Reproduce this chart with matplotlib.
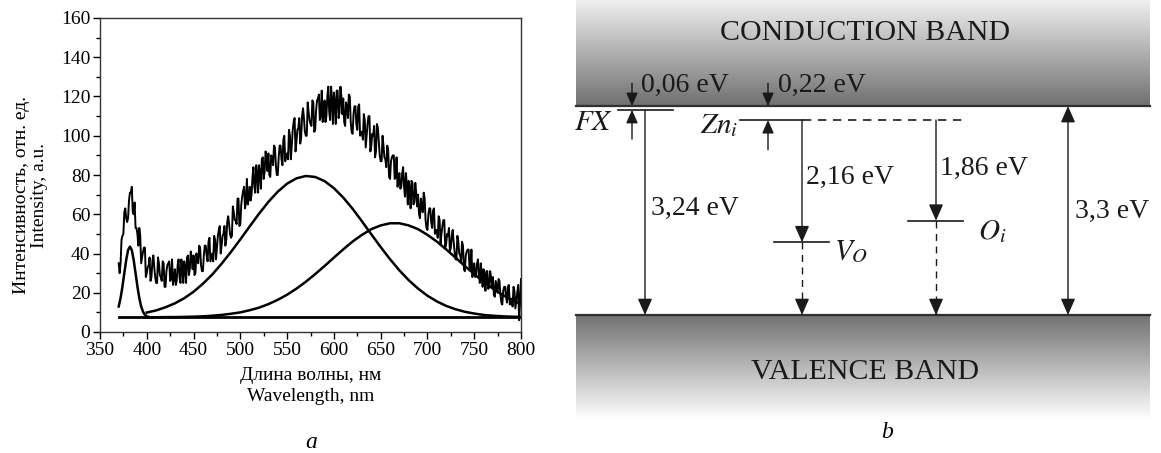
"""
Photoluminescence spectrum (a) and band diagram with defect levels (b).
"""

import numpy as np
import matplotlib
matplotlib.use('Agg')
import matplotlib.pyplot as plt

plt.rcParams['font.family'] = ['Liberation Serif', 'DejaVu Serif']
plt.rcParams['mathtext.fontset'] = 'stix'

wl_start, wl_step = 370, 1
intensity = [
    35, 30, 35, 47, 49, 50, 61, 63, 58, 56,        # 370
    58, 67, 71, 71, 74, 61, 60, 66, 53, 53,        # 380
    50, 44, 53, 49, 35, 38, 41, 43, 43, 28,        # 390
    30, 33, 34, 38, 26, 28, 36, 39, 33, 28,        # 400
    25, 25, 38, 35, 29, 28, 26, 36, 35, 23,        # 410
    23, 31, 34, 35, 36, 26, 27, 37, 24, 27,        # 420
    32, 24, 26, 34, 37, 28, 25, 37, 32, 25,        # 430
    36, 33, 25, 38, 39, 29, 32, 41, 38, 32,        # 440
    39, 29, 30, 40, 37, 35, 44, 43, 34, 31,        # 450
    31, 39, 44, 44, 39, 36, 46, 48, 36, 38,        # 460
    40, 36, 49, 47, 37, 43, 49, 52, 54, 40,        # 470
    44, 49, 50, 54, 44, 47, 56, 59, 55, 50,        # 480
    48, 49, 64, 61, 57, 57, 55, 68, 68, 54,        # 490
    55, 65, 69, 72, 74, 63, 66, 78, 65, 68,        # 500
    74, 67, 70, 79, 84, 74, 71, 85, 81, 71,        # 510
    85, 81, 73, 88, 89, 78, 82, 92, 89, 82,        # 520
    91, 80, 79, 90, 89, 85, 95, 94, 85, 80,        # 530
    80, 89, 95, 95, 88, 85, 98, 100, 87, 90,       # 540
    91, 88, 103, 100, 88, 95, 103, 107, 109, 92,   # 550
    97, 103, 104, 109, 96, 99, 110, 114, 109, 102,  # 560
    100, 100, 117, 112, 108, 106, 105, 118, 117, 102,  # 570
    103, 113, 118, 119, 121, 108, 110, 123, 107, 110,  # 580
    118, 107, 110, 120, 125, 112, 108, 125, 118, 106,  # 590
    122, 117, 106, 123, 123, 109, 112, 125, 120, 111,  # 600
    119, 107, 105, 117, 115, 109, 121, 120, 107, 102,  # 610
    101, 111, 115, 115, 106, 103, 115, 116, 100, 102,  # 620
    102, 98, 111, 108, 94, 100, 106, 110, 110, 92,     # 630
    95, 101, 100, 105, 89, 92, 106, 104, 97, 90,       # 640
    87, 87, 100, 95, 89, 88, 84, 95, 93, 79,           # 650
    78, 87, 89, 90, 90, 78, 79, 89, 74, 77,            # 660
    81, 73, 74, 81, 84, 74, 69, 81, 75, 65,            # 670
    77, 73, 63, 77, 76, 65, 66, 76, 71, 64,            # 680
    70, 60, 58, 68, 64, 61, 71, 68, 57, 53,            # 690
    52, 60, 63, 63, 56, 53, 62, 63, 50, 52,            # 700
    52, 48, 59, 57, 45, 50, 54, 57, 57, 43,            # 710
    45, 50, 49, 53, 41, 43, 49, 52, 46, 41,            # 720
    37, 37, 49, 46, 40, 39, 36, 46, 44, 32,            # 730
    31, 39, 41, 42, 42, 32, 32, 42, 28, 31,            # 740
    35, 28, 29, 35, 37, 29, 25, 35, 30, 23,            # 750
    32, 29, 21, 31, 31, 22, 23, 31, 28, 23,            # 760
    28, 19, 18, 26, 23, 20, 27, 26, 19, 15,            # 770
    14, 21, 23, 23, 18, 15, 23, 24, 14, 16,            # 780
    17, 13, 23, 21, 12, 16, 20, 24, 6, 15,             # 790
    27,                                                # 800
]

# fitted components
baseline = 7.5
uv_wl = list(range(370, 403, 2))
uv_peak = [13.0, 17.3, 23.2, 30.0, 36.7, 41.7, 43.5, 41.7, 36.7, 30.0,
           23.2, 17.3, 13.0, 10.3, 8.8, 8.0, 7.7]
vis_wl = list(range(400, 801, 10))
green_peak = [9.9, 11.0, 12.6, 14.6, 17.2, 20.5, 24.6, 29.3, 34.8, 40.8,
              47.2, 53.8, 60.3, 66.3, 71.5, 75.6, 78.3, 79.5, 79.0, 76.9,
              73.3, 68.5, 62.8, 56.4, 49.8, 43.3, 37.1, 31.4, 26.4, 22.1,
              18.5, 15.6, 13.3, 11.6, 10.3, 9.4, 8.7, 8.3, 8.0, 7.8, 7.7]
red_peak = [7.5, 7.5, 7.6, 7.6, 7.7, 7.8, 8.0, 8.3, 8.7, 9.3,
            10.0, 11.1, 12.4, 14.2, 16.4, 19.0, 22.1, 25.6, 29.5, 33.6,
            37.9, 42.1, 46.1, 49.5, 52.4, 54.3, 55.4, 55.4, 54.3, 52.4,
            49.5, 46.1, 42.1, 37.9, 33.6, 29.5, 25.6, 22.1, 19.0, 16.4, 14.2]

# ---- panel b: energies in eV ----
band_gap = 3.3
fx_depth = 0.06
zn_depth = 0.22
fx_transition = 3.24
vo_transition = 2.16
oi_transition = 1.86
# V_O and O_i are not drawn to scale in the scheme, heights read off the drawing
vo_drawn = 1.15
oi_drawn = 1.49

INK = '#1a1a1a'


def ev_label(value, digits=2):
    return f'{value:.{digits}f} eV'.replace('.', ',')


def plot_spectrum(ax):
    wl = np.arange(len(intensity)) * wl_step + wl_start
    ax.plot(wl, intensity, color='black', lw=1.4)
    ax.plot([wl[0], wl[-1]], [baseline, baseline], color='black', lw=2)
    ax.plot(uv_wl, uv_peak, color='black', lw=1.8)
    ax.plot(vis_wl, green_peak, color='black', lw=1.8)
    ax.plot(vis_wl, red_peak, color='black', lw=1.8)

    ax.set_xlim(350, 800)
    ax.set_ylim(0, 160)
    ax.set_xticks(np.arange(350, 801, 50))
    ax.set_xticks(np.arange(375, 800, 50), minor=True)
    ax.set_yticks(np.arange(0, 161, 20))
    ax.set_yticks(np.arange(10, 160, 20), minor=True)
    ax.tick_params(which='major', direction='out', length=5, width=1,
                   labelsize=14, pad=2)
    ax.tick_params(which='minor', direction='out', length=3, width=1)
    for s in ax.spines.values():
        s.set_linewidth(1.0)
        s.set_color('#333333')

    ax.set_xlabel('Длина волны, нм\nWavelength, nm', fontsize=14,
                  linespacing=1.35)
    ax.xaxis.set_label_coords(0.5, -0.172)
    ax.xaxis.label.set_va('center')
    ax.set_ylabel('Интенсивность, отн. ед.\nIntensity, a.u.', fontsize=14,
                  linespacing=1.1)
    ax.yaxis.set_label_coords(-0.165, 0.436)
    ax.yaxis.label.set_va('center')


def arrow(ax, x, y_from, y_to, scale=20):
    ax.annotate('', xy=(x, y_to), xytext=(x, y_from),
                arrowprops=dict(arrowstyle='-|>,head_length=0.5,head_width=0.22',
                                color=INK, lw=1.0, mutation_scale=scale,
                                shrinkA=0, shrinkB=0))


def dashed_arrow(ax, x, y_from, y_to):
    ax.plot([x, x], [y_from, y_to], color=INK, lw=1.0, ls=(0, (5, 4)))
    arrow(ax, x, y_to + 0.2, y_to)


def plot_bands(ax):
    left, right = 576, 1150
    top, bottom = 4.976, -2.18

    cb_grad = np.linspace(0.94, 0.44, 256)[:, None]
    ax.imshow(cb_grad, cmap='gray', vmin=0, vmax=1, aspect='auto',
              extent=[left, right, band_gap, top], zorder=0)
    vb_grad = np.linspace(0.44, 1.0, 256)[:, None]
    ax.imshow(vb_grad, cmap='gray', vmin=0, vmax=1, aspect='auto',
              extent=[left, right, -1.66, 0], zorder=0)
    ax.set_xlim(545, 1161)
    ax.set_ylim(bottom, top)
    ax.axis('off')
    ax.plot([left, right], [band_gap, band_gap], color='#303030', lw=1.6)
    ax.plot([left, right], [0, 0], color='#303030', lw=1.6)

    ax.text(865, 4.45, 'CONDUCTION BAND', fontsize=21.5, ha='center',
            va='center', color=INK)
    ax.text(865, -0.9, 'VALENCE BAND', fontsize=21.5, ha='center',
            va='center', color=INK)

    fx_level = band_gap - fx_depth
    zn_level = band_gap - zn_depth

    # FX
    ax.plot([618, 673], [fx_level, fx_level], color=INK, lw=1.2)
    arrow(ax, 632, band_gap + 0.36, band_gap, scale=16)
    arrow(ax, 632, fx_level - 0.46, fx_level, scale=16)
    ax.text(641, 3.63, ev_label(fx_depth), fontsize=20,
            ha='left', va='center', color=INK)
    ax.text(613, 3.03, '$FX$', fontsize=21, ha='right', va='center', color=INK)
    arrow(ax, 645, fx_level, 0)
    ax.text(651, 1.69, ev_label(fx_transition), fontsize=20,
            ha='left', va='center', color=INK)

    # Zn_i
    ax.plot([740, 803], [zn_level, zn_level], color=INK, lw=1.2)
    ax.plot([803, 965], [zn_level, zn_level], color=INK, lw=1.2,
            ls=(0, (5, 4)))
    arrow(ax, 768, band_gap + 0.36, band_gap, scale=16)
    arrow(ax, 768, zn_level - 0.47, zn_level, scale=16)
    ax.text(778, 3.63, ev_label(zn_depth), fontsize=20,
            ha='left', va='center', color=INK)
    ax.text(738, 2.99, '$Zn_i$', fontsize=21, ha='right', va='center',
            color=INK)

    # V_O
    ax.plot([774, 829], [vo_drawn, vo_drawn], color=INK, lw=1.2)
    arrow(ax, 802, zn_level, vo_drawn)
    dashed_arrow(ax, 802, vo_drawn, 0)
    ax.text(806, 2.18, ev_label(vo_transition), fontsize=20,
            ha='left', va='center', color=INK)
    ax.text(834, 1.0, '$V_O$', fontsize=21, ha='left', va='center', color=INK)

    # O_i
    ax.plot([908, 963], [oi_drawn, oi_drawn], color=INK, lw=1.2)
    arrow(ax, 936, zn_level, oi_drawn)
    dashed_arrow(ax, 936, oi_drawn, 0)
    ax.text(940, 2.31, ev_label(oi_transition), fontsize=20,
            ha='left', va='center', color=INK)
    ax.text(978, 1.32, '$O_i$', fontsize=21, ha='left', va='center', color=INK)

    # band gap
    ax.annotate('', xy=(1068, band_gap), xytext=(1068, 0),
                arrowprops=dict(arrowstyle='<|-|>,head_length=0.5,head_width=0.22',
                                color=INK, lw=1.0, mutation_scale=20,
                                shrinkA=0, shrinkB=0))
    ax.text(1075, 1.64, ev_label(band_gap, 1), fontsize=20,
            ha='left', va='center', color=INK)


def main():
    fig = plt.figure(figsize=(11.61, 4.53), dpi=100)
    ax_a = fig.add_axes([100 / 1161, 1 - 332 / 453, 421 / 1161, 314 / 453])
    ax_b = fig.add_axes([545 / 1161, 0, 616 / 1161, 1])
    plot_spectrum(ax_a)
    plot_bands(ax_b)
    fig.text(311 / 1161, 1 - 442 / 453, 'a', fontsize=17, style='italic',
             ha='center', va='center')
    fig.text(887 / 1161, 1 - 432 / 453, 'b', fontsize=17, style='italic',
             ha='center', va='center')
    fig.savefig('out.png', dpi=100)
    plt.close(fig)


if __name__ == "__main__":
    main()
